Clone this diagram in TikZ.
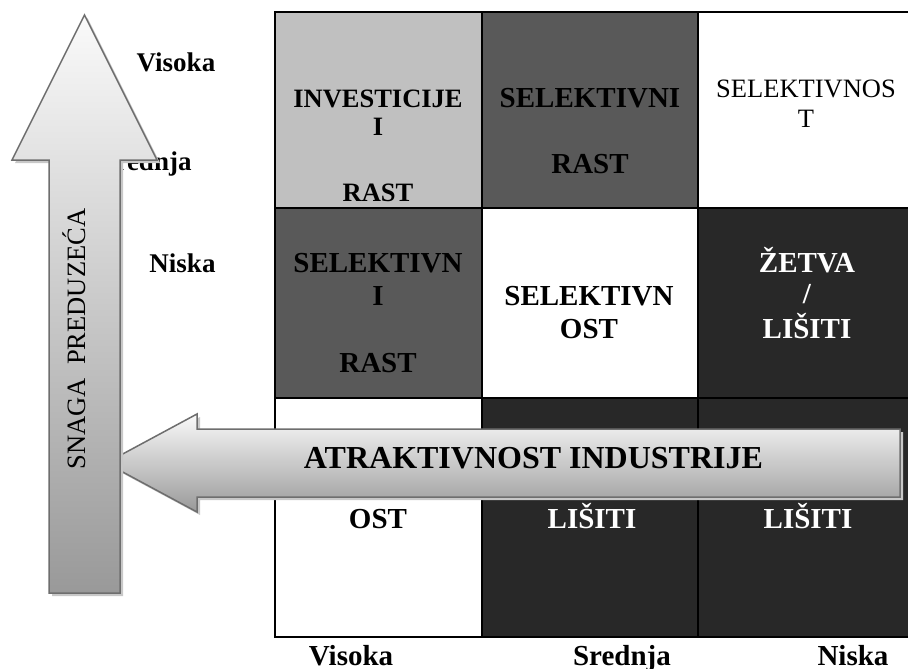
\documentclass[tikz,border=0pt]{standalone}
\usepackage{fontspec}
\setmainfont{Liberation Serif}
\definecolor{lgray}{HTML}{C0C0C0}
\definecolor{mgray}{HTML}{595959}
\definecolor{dgray}{HTML}{282828}
\definecolor{arrowborder}{HTML}{6E6E6E}
\definecolor{shadowc}{HTML}{C8C8C8}
\definecolor{arrowtop}{HTML}{FAFAFA}
\definecolor{arrowbot}{HTML}{999999}
\begin{document}
\begin{tikzpicture}[x=1pt,y=-1pt,
  cell/.style={draw=black, line width=2pt, rectangle, inner sep=0pt},
  bl/.style={font=\fontsize{29}{33}\selectfont\bfseries, anchor=base, inner sep=0pt},
  blsmall/.style={font=\fontsize{26.5}{31}\selectfont\bfseries, anchor=base, inner sep=0pt},
  rg/.style={font=\fontsize{26.5}{31}\selectfont, anchor=base, inner sep=0pt},
  lab/.style={font=\fontsize{27}{31}\selectfont\bfseries, anchor=base, inner sep=0pt},
  wt/.style={text=white},
  arrowbody/.style={draw=arrowborder, line width=1.5pt, line join=miter, top color=arrowtop, bottom color=arrowbot},
  arrowshadow/.style={fill=shadowc, draw=none}
]
\useasboundingbox (0,0) rectangle (908,669);
\fill[white] (0,0) rectangle (908,669);

% grid cells
\node[cell, fill=lgray, minimum width=207pt, minimum height=196pt] (c11) at (378.5,110) {};
\node[cell, fill=mgray, minimum width=216pt, minimum height=196pt] (c12) at (590,110) {};
\node[cell, fill=white, minimum width=216pt, minimum height=196pt] (c13) at (806,110) {};
\node[cell, fill=mgray, minimum width=207pt, minimum height=190pt] (c21) at (378.5,303) {};
\node[cell, fill=white, minimum width=216pt, minimum height=190pt] (c22) at (590,303) {};
\node[cell, fill=dgray, minimum width=216pt, minimum height=190pt] (c23) at (806,303) {};
\node[cell, fill=white, minimum width=207pt, minimum height=239pt] (c31) at (378.5,517.5) {};
\node[cell, fill=dgray, minimum width=216pt, minimum height=239pt] (c32) at (590,517.5) {};
\node[cell, fill=dgray, minimum width=216pt, minimum height=239pt] (c33) at (806,517.5) {};

% cell texts
\node[blsmall] (t11a) at (378,107) {INVESTICIJE};
\node[blsmall] (t11b) at (378,135) {I};
\node[blsmall] (t11c) at (378,201) {RAST};
\node[bl] (t12a) at (590,107) {SELEKTIVNI};
\node[bl] (t12b) at (590,173) {RAST};
\node[rg] (t13a) at (806,98) {SELEKTIVNOS};
\node[rg] (t13b) at (806,128) {T};
\node[bl] (t21a) at (378,272) {SELEKTIVN};
\node[bl] (t21b) at (378,305) {I};
\node[bl] (t21c) at (378,372) {RAST};
\node[bl] (t22a) at (589,305) {SELEKTIVN};
\node[bl] (t22b) at (589,338) {OST};
\node[bl, wt] (t23a) at (807,272) {ŽETVA};
\node[bl, wt] (t23b) at (807,303) {/};
\node[bl, wt] (t23c) at (807,338) {LIŠITI};
\node[bl] (t31) at (378,528) {OST};
\node[bl, wt] (t32) at (592,528) {LIŠITI};
\node[bl, wt] (t33) at (808,528) {LIŠITI};

% axis labels
\node[lab] (lv) at (176,72) {Visoka};
\node[lab] (ls) at (146,170) {Srednja};
\node[lab] (ln) at (182.5,272) {Niska};
\node[bl] (bv) at (351,665) {Visoka};
\node[bl] (bs) at (622,665) {Srednja};
\node[bl] (bn) at (853,665) {Niska};

% horizontal arrow
\fill[arrowshadow, shift={(3,3)}] (900,429) -- (197,429) -- (197,414) -- (106,463) -- (197,512) -- (197,497) -- (900,497) -- cycle;
\path[arrowbody] (900,429) -- (197,429) -- (197,414) -- (106,463) -- (197,512) -- (197,497) -- (900,497) -- cycle;
\node[font=\fontsize{32}{36}\selectfont\bfseries, anchor=base, inner sep=0pt] (ha) at (533.5,468) {ATRAKTIVNOST INDUSTRIJE};

% vertical arrow
\fill[arrowshadow, shift={(3,3)}] (49,593) -- (49,160) -- (12,160) -- (84.5,15) -- (157,160) -- (120,160) -- (120,593) -- cycle;
\path[arrowbody] (49,593) -- (49,160) -- (12,160) -- (84.5,15) -- (157,160) -- (120,160) -- (120,593) -- cycle;
\node[rg, rotate=90] (va) at (85,339) {SNAGA~~PREDUZEĆA};
\end{tikzpicture}
\end{document}
